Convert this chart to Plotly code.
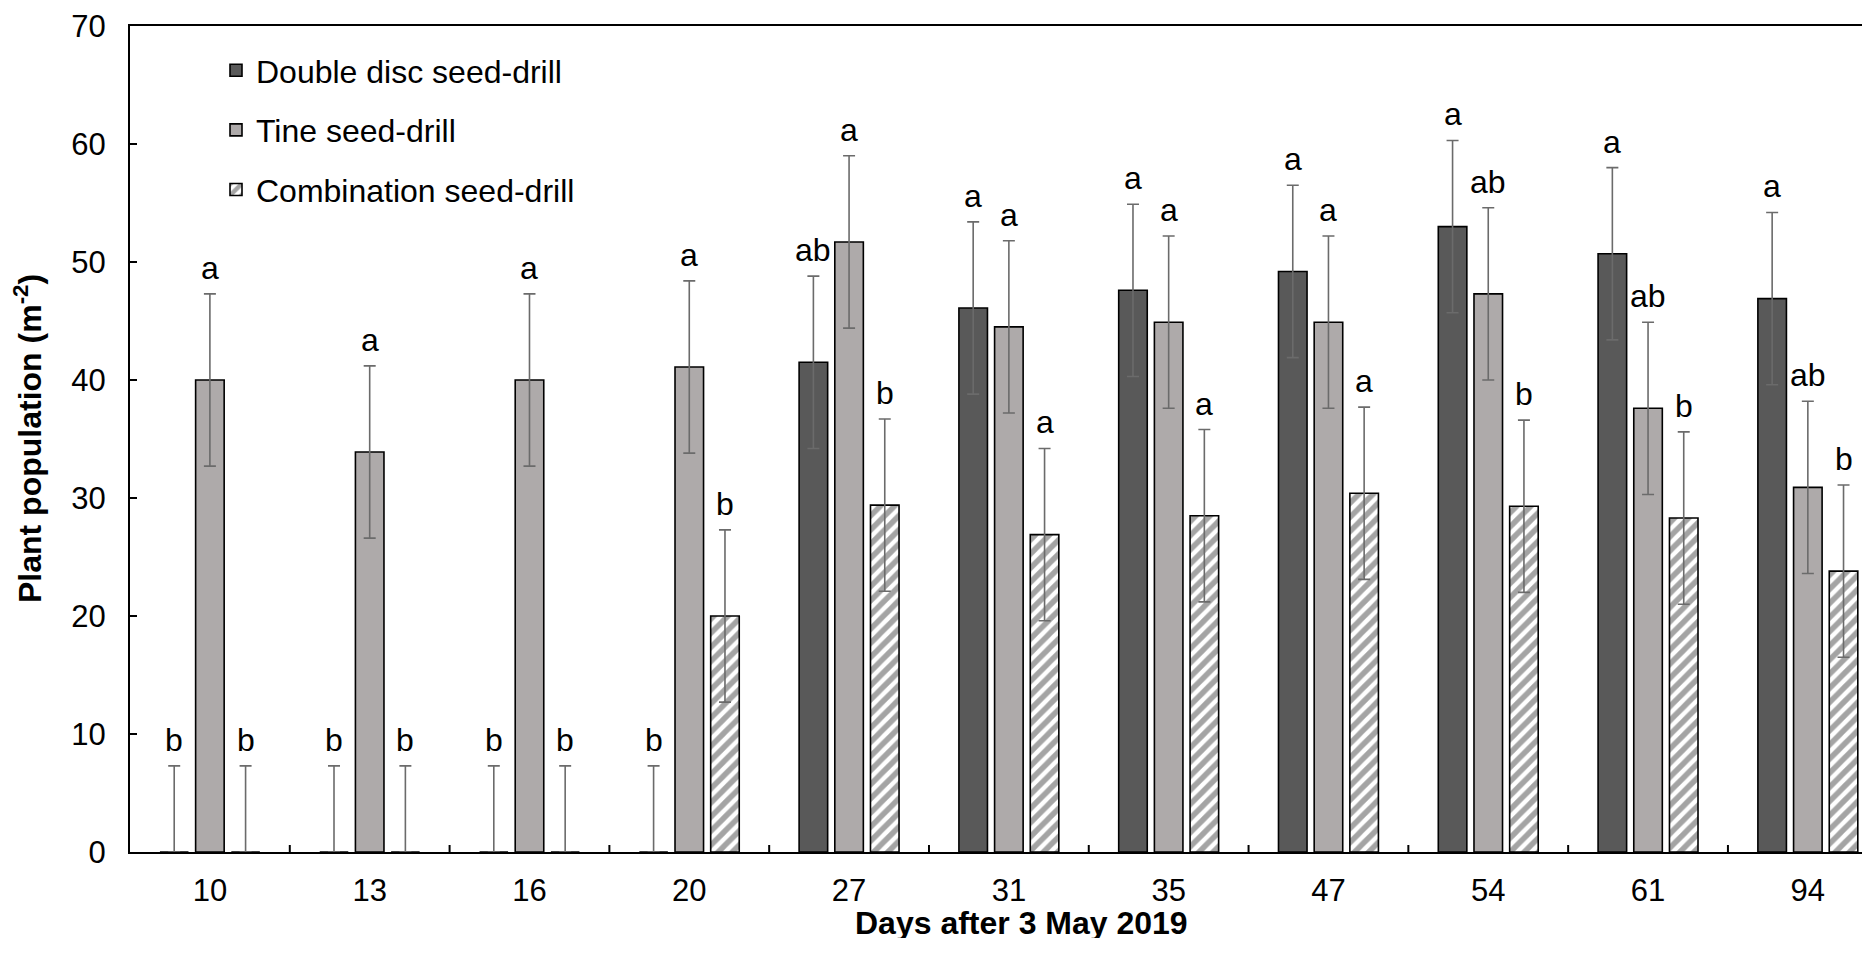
import plotly.graph_objects as go

days = ["10", "13", "16", "20", "27", "31", "35", "47", "54", "61", "94"]
double_disc = [0, 0, 0, 0, 41.5, 46.1, 47.6, 49.2, 53.0, 50.7, 46.9]
tine = [40.0, 33.9, 40.0, 41.1, 51.7, 44.5, 44.9, 44.9, 47.3, 37.6, 30.9]
combination = [0, 0, 0, 20.0, 29.4, 26.9, 28.5, 30.4, 29.3, 28.3, 23.8]
err_double = [7.3, 7.3, 7.3, 7.3, 7.3, 7.3, 7.3, 7.3, 7.3, 7.3, 7.3]
err_tine = [7.3, 7.3, 7.3, 7.3, 7.3, 7.3, 7.3, 7.3, 7.3, 7.3, 7.3]
err_comb = [7.3, 7.3, 7.3, 7.3, 7.3, 7.3, 7.3, 7.3, 7.3, 7.3, 7.3]
letters_double = ["b", "b", "b", "b", "ab", "a", "a", "a", "a", "a", "a"]
letters_tine = ["a", "a", "a", "a", "a", "a", "a", "a", "ab", "ab", "ab"]
letters_comb = ["b", "b", "b", "b", "b", "a", "a", "a", "b", "b", "b"]
names = ["Double disc seed-drill", "Tine seed-drill", "Combination seed-drill"]

FONT = "Liberation Sans, Arial, sans-serif"
BARGAP = 0.33
BARGROUPGAP = 0.2
ERRC = "#6b6b6b"

# page body has an 8px margin; figure sized so it fits the 1870x972 window
OFF = 8
W, H = 1870 - OFF, 972 - OFF
PLOT_L, PLOT_T, PLOT_B = 130, 26, 852      # target viewport pixels of plot area
L = PLOT_L - OFF
T = PLOT_T - OFF
B = H - (PLOT_B - OFF)
R = 0
PW = W - L - R
PH = H - T - B


def paper_x(px):
    return (px - PLOT_L) / PW


def paper_y(py):
    return 1 - (py - PLOT_T) / PH


fig = go.Figure()

series = [
    (double_disc, err_double, letters_double, dict(color="#595959")),
    (tine, err_tine, letters_tine, dict(color="#AEAAAA")),
    (combination, err_comb, letters_comb,
     dict(color="white", pattern=dict(shape="/", fgcolor="#4a4a4a", bgcolor="white",
                                      size=10, solidity=0.55))),
]

for k, (vals, errs, lets, mk) in enumerate(series):
    marker = dict(mk)
    marker["line"] = dict(color="black", width=1.6)
    fig.add_trace(go.Bar(
        x=days, y=vals, name=names[k], marker=marker,
        legendgroup=f"g{k}",
        error_y=dict(type="data", array=errs,
                     arrayminus=[min(e, v) for e, v in zip(errs, vals)],
                     symmetric=False, color=ERRC, thickness=1.6, width=6),
    ))

slot = (1 - BARGAP) / 3
annotations = []
for k, (vals, errs, lets, mk) in enumerate(series):
    for i, (v, e, t) in enumerate(zip(vals, errs, lets)):
        annotations.append(dict(
            x=i + (k - 1) * slot, y=v + e, xref="x", yref="y", text=t,
            showarrow=False, xanchor="center", yanchor="middle", yshift=26,
            font=dict(family=FONT, size=32, color="black"),
        ))

annotations.append(dict(
    x=paper_x(1021), y=paper_y(923), xref="paper", yref="paper",
    text="<b>Days after 3 May 2019</b>", xanchor="center", yanchor="middle",
    height=30, showarrow=False, font=dict(family=FONT, size=32, color="black"),
))
annotations.append(dict(
    x=paper_x(28), y=paper_y(439), xref="paper", yref="paper",
    text="<b>Plant population (m<sup>-2</sup>)</b>", xanchor="center", yanchor="middle",
    showarrow=False, textangle=-90, font=dict(family=FONT, size=32, color="black"),
))

fig.update_layout(
    width=W, height=H,
    margin=dict(l=L, r=R, t=T, b=B, autoexpand=False),
    paper_bgcolor="white", plot_bgcolor="white",
    barmode="group", bargap=BARGAP, bargroupgap=BARGROUPGAP,
    font=dict(family=FONT, size=31, color="black"),
    showlegend=True,
    legend=dict(x=paper_x(216), y=paper_y(43), xanchor="left", yanchor="top",
                bgcolor="rgba(0,0,0,0)", borderwidth=0,
                font=dict(family=FONT, size=32, color="black"),
                traceorder="grouped", tracegroupgap=15),
    annotations=annotations,
    xaxis=dict(type="category", range=[-0.5, 10.389], showgrid=False,
               showline=True, linecolor="black", linewidth=2, mirror=True,
               ticks="", tickfont=dict(family=FONT, size=31, color="black"),
               ticklabelstandoff=10, zeroline=False),
    yaxis=dict(range=[0, 70], dtick=10, showgrid=False, zeroline=False,
               showline=True, linecolor="black", linewidth=2,
               ticks="inside", ticklen=7, tickwidth=2, tickcolor="black",
               tickfont=dict(family=FONT, size=31, color="black"),
               ticklabelstandoff=16),
)

# category divider ticks on x axis (inside, between groups)
for i in range(len(days) - 1):
    fig.add_shape(type="line", xref="x", yref="y domain",
                  x0=i + 0.5, x1=i + 0.5, y0=0, y1=0.0085,
                  line=dict(color="black", width=2))

fig.write_html("out.html")
